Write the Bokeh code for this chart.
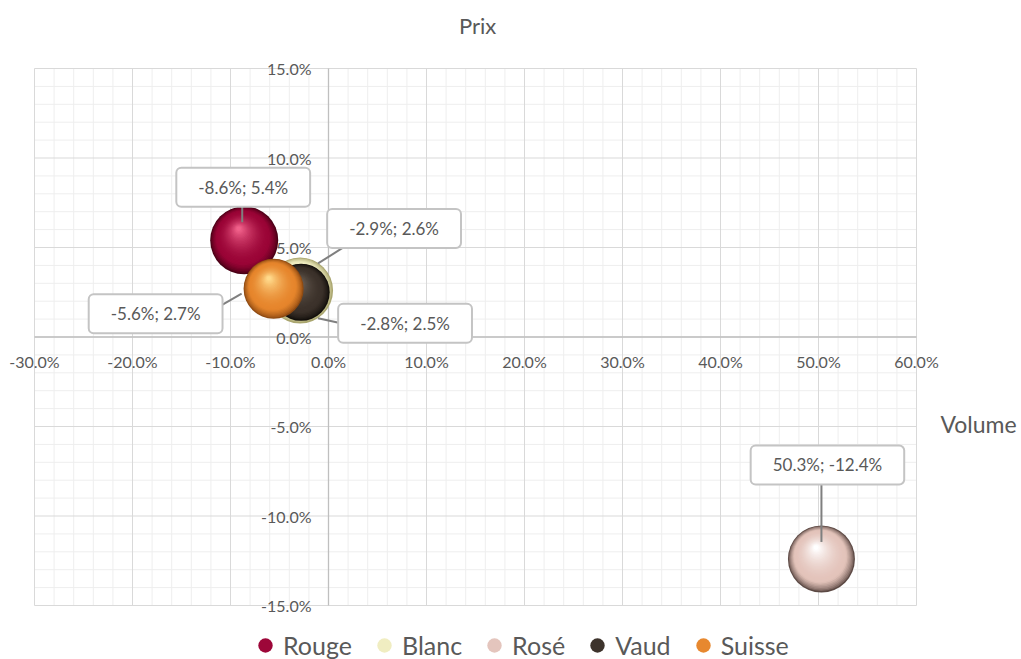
import math
from bokeh.plotting import figure
from bokeh.models import (Label, ColumnDataSource, Legend, LegendItem, Range1d)
from bokeh.core.properties import value
from bokeh.embed import file_html
from bokeh.resources import INLINE

# ---------------- data ----------------
series = ["Rouge", "Blanc", "Rosé", "Vaud", "Suisse"]
volume = [-8.6, -2.9, 50.3, -2.8, -5.6]      # x, %
prix = [5.4, 2.6, -12.4, 2.5, 2.7]           # y, %
bubble_size = [100, 94, 97, 71, 78]          # relative bubble size

x_ticks = [-30, -20, -10, 0, 10, 20, 30, 40, 50, 60]
x_tick_labels = ["-30.0%", "-20.0%", "-10.0%", "0.0%", "10.0%", "20.0%",
                 "30.0%", "40.0%", "50.0%", "60.0%"]
y_ticks = [-15, -10, -5, 0, 5, 10, 15]
y_tick_labels = ["-15.0%", "-10.0%", "-5.0%", "0.0%", "5.0%", "10.0%", "15.0%"]

# ---------------- styles ----------------
colors = {  # dark edge, base, highlight
    "Rouge": ("#4a0016", "#9a0436", "#f0608a"),
    "Blanc": ("#a9a56e", "#efecbf", "#fffff2"),
    "Rosé": ("#5c4944", "#e3c3ba", "#ffffff"),
    "Vaud": ("#120e0b", "#3b312a", "#7b6f64"),
    "Suisse": ("#8e4a12", "#e6852c", "#ffd98a"),
}
# label box offsets (px, y up) and leader lines (start, end) relative to bubble centre
label_off = {"Rouge": (-1, 53), "Blanc": (94, 62), "Rosé": (6, 94),
             "Vaud": (104, -31), "Suisse": (-118, -25)}
leaders = {"Rouge": ((-2, 35), (-2, 18)), "Blanc": ((48, 46), (18, 27)),
           "Rosé": ((0, 77), (0, 17)), "Vaud": ((49, -33), (17, -26)),
           "Suisse": ((-58, -20), (-32, -5))}

TXT = "#595959"
FONT = "Lato"
W, H = 1021, 659
X0, X1, Y0, Y1 = -30, 60, -15, 15
FL, FR, FT, FB = 34, 916, 68, 605          # plot-area edges in px
PX = (FR - FL) / (X1 - X0)
PY = (FB - FT) / (Y1 - Y0)

p = figure(width=W, height=H,
           x_range=Range1d(X0 - FL / PX, X1 + (W - FR) / PX),
           y_range=Range1d(Y0 - (H - FB) / PY, Y1 + FT / PY),
           x_axis_location=None, y_axis_location=None, title=None,
           output_backend="svg", toolbar_location=None, min_border=0)
p.outline_line_color = None
p.background_fill_color = "white"
p.border_fill_color = "white"
for g in p.grid:
    g.visible = False

# grid lines
xminor = [v for v in range(X0, X1 + 1, 2) if v not in x_ticks]
yminor = [v for v in range(Y0, Y1 + 1, 1) if v not in y_ticks]
p.segment(x0=xminor, x1=xminor, y0=[Y0] * len(xminor), y1=[Y1] * len(xminor),
          line_color="#eeeeee", line_width=1)
p.segment(x0=[X0] * len(yminor), x1=[X1] * len(yminor), y0=yminor, y1=yminor,
          line_color="#eeeeee", line_width=1)
p.segment(x0=x_ticks, x1=x_ticks, y0=[Y0] * len(x_ticks), y1=[Y1] * len(x_ticks),
          line_color="#d9d9d9", line_width=1)
p.segment(x0=[X0] * len(y_ticks), x1=[X1] * len(y_ticks), y0=y_ticks, y1=y_ticks,
          line_color="#d9d9d9", line_width=1)
p.segment(x0=[0, X0], x1=[0, X1], y0=[Y0, 0], y1=[Y1, 0], line_color="#bfbfbf", line_width=1.3)


def mix(c1, c2, t):
    a = [int(c1[i:i + 2], 16) for i in (1, 3, 5)]
    b = [int(c2[i:i + 2], 16) for i in (1, 3, 5)]
    return "#%02x%02x%02x" % tuple(round(a[k] + (b[k] - a[k]) * t) for k in range(3))


# bubbles (sphere look built of layered circles)
N = 30
BASE_IDX = 10
bubble_renderers = []
for name, bx, by, s in zip(series, volume, prix, bubble_size):
    r = 34 * math.sqrt(s / 100)
    dark, base, light = colors[name]
    lx, ly, ls, lc = [], [], [], []
    for i in range(N):
        t = i / (N - 1)
        ri = r * (1 - 0.93 * t)
        ox, oy = -0.16 * r * t, 0.34 * r * t
        if t < 0.22:
            col = mix(dark, base, (t / 0.22) ** 0.7)
        else:
            col = mix(base, light, ((t - 0.22) / 0.78) ** 1.8)
        lx.append(bx + ox / PX)
        ly.append(by + oy / PY)
        ls.append(2 * ri)
        lc.append(col)
    bubble_renderers.append(p.scatter(x=lx, y=ly, size=ls, fill_color=lc, line_color=None))

# tick labels (drawn over the bubbles, as in the original)
xs = ColumnDataSource(dict(x=x_ticks, y=[0] * len(x_ticks), t=x_tick_labels))
p.text(x="x", y="y", text="t", source=xs, y_offset=24, text_align="center",
       text_baseline="middle", text_font=value(FONT), text_font_size="16px", text_color=TXT)
ys = ColumnDataSource(dict(x=[0] * len(y_ticks), y=y_ticks, t=y_tick_labels))
p.text(x="x", y="y", text="t", source=ys, x_offset=-17, text_align="right",
       text_baseline="middle", text_font=value(FONT), text_font_size="16px", text_color=TXT)

# leader lines
sx0, sy0, sx1, sy1 = [], [], [], []
for name, bx, by in zip(series, volume, prix):
    (a, b), (c, d) = leaders[name]
    sx0.append(bx + a / PX); sy0.append(by + b / PY)
    sx1.append(bx + c / PX); sy1.append(by + d / PY)
p.segment(x0=sx0, y0=sy0, x1=sx1, y1=sy1, line_color="#7f7f7f", line_width=2)

# data labels
for name, bx, by in zip(series, volume, prix):
    dx, dy = label_off[name]
    p.add_layout(Label(x=bx, y=by, x_offset=dx, y_offset=dy, text=f"{bx:.1f}%; {by:.1f}%",
                       text_align="center", text_baseline="middle", text_font=FONT,
                       text_font_size="17px", text_color=TXT,
                       background_fill_color="white", border_line_color="#c4c4c4",
                       border_line_width=2, border_radius=5,
                       padding=dict(left=22, right=22, top=9, bottom=9)))

# axis titles
p.add_layout(Label(x=X0 + (477 - FL) / PX, y=Y1 + (FT - 25) / PY, text="Prix", text_align="center",
                   text_baseline="middle", text_font=FONT, text_font_size="22px", text_color=TXT))
p.add_layout(Label(x=X0 + (978 - FL) / PX, y=Y0 + (FB - 423) / PY, text="Volume", text_align="center",
                   text_baseline="middle", text_font=FONT, text_font_size="23px", text_color=TXT))

# legend
items = [LegendItem(label=name, renderers=[rr], index=BASE_IDX)
         for name, rr in zip(series, bubble_renderers)]
leg = Legend(items=items, orientation="horizontal", location=(247, -4),
             glyph_width=36, glyph_height=36, label_standoff=0, spacing=14,
             padding=0, margin=0, background_fill_alpha=0, border_line_color=None,
             label_text_font=FONT, label_text_font_size="25px", label_text_color=TXT)
p.add_layout(leg)

open("out.html", "w").write(file_html(p, INLINE))
